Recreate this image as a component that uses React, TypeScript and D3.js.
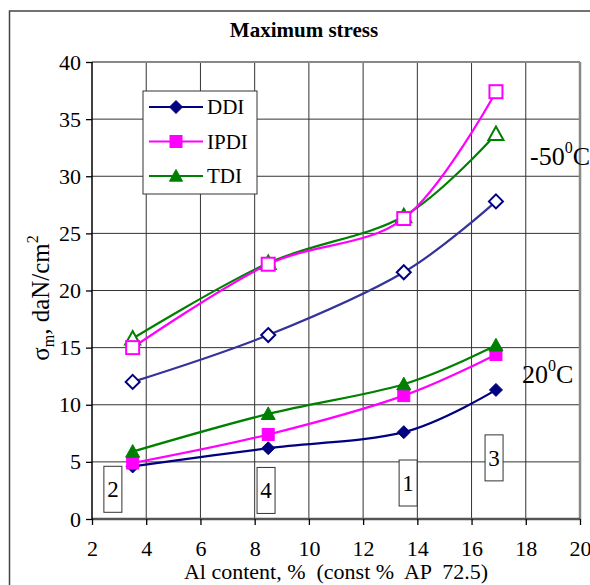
import * as d3 from "d3";
import React, { useRef, useEffect } from "react";

// Al content, % (x values shared by all series)
const alContent = [3.5, 8.5, 13.5, 16.9];

// 20 C series (filled markers)
const ddi20 = [4.6, 6.2, 7.6, 11.3];
const ipdi20 = [4.9, 7.4, 10.8, 14.4];
const tdi20 = [5.9, 9.2, 11.8, 15.2];

// -50 C series (hollow markers)
const ddiMinus50 = [12.0, 16.1, 21.6, 27.8];
const ipdiMinus50 = [15.0, 22.3, 26.3, 37.4];
const tdiMinus50 = [15.8, 22.4, 26.5, 33.7];

const legendNames = ["DDI", "IPDI", "TDI"];
const sampleLabels = ["2", "4", "1", "3"];
const xTicks = [2, 4, 6, 8, 10, 12, 14, 16, 18, 20];
const yTicks = [0, 5, 10, 15, 20, 25, 30, 35, 40];

const W = 590;
const H = 585;
const margin = { left: 92, right: 10, top: 62, bottom: 66 };
const FONT = "'Liberation Serif', 'Times New Roman', serif";

const NAVY = "#000080";
const MAGENTA = "#ff00ff";
const GREEN = "#008000";

// where the sample number boxes sit (data coords)
const boxPos = [
  [2.77, 2.6],
  [8.42, 2.5],
  [13.66, 3.15],
  [16.83, 5.35],
];

function App() {
  const xAxisRef = useRef(null);
  const yAxisRef = useRef(null);

  const x = d3.scaleLinear().domain([2, 20]).range([margin.left, W - margin.right]);
  const y = d3.scaleLinear().domain([0, 40]).range([H - margin.bottom, margin.top]);

  useEffect(() => {
    const xa = d3.select(xAxisRef.current);
    xa.call(d3.axisBottom(x).tickValues(xTicks).tickSize(6).tickPadding(15));
    xa.select(".domain").remove();
    xa.selectAll("text").attr("font-size", 22).attr("font-family", FONT).attr("fill", "#000");
    xa.selectAll("line").attr("stroke", "#000").attr("stroke-width", 1.3);

    const ya = d3.select(yAxisRef.current);
    ya.call(d3.axisLeft(y).tickValues(yTicks).tickSize(6).tickPadding(5));
    ya.select(".domain").remove();
    ya.selectAll("text").attr("font-size", 22).attr("font-family", FONT).attr("fill", "#000");
    ya.selectAll("line").attr("stroke", "#000").attr("stroke-width", 1.3);
  }, []);

  const line = d3
    .line<number>()
    .x((d, i) => x(alContent[i]))
    .y((d) => y(d))
    .curve(d3.curveCardinal.tension(0));

  const diamond = (cx, cy, r, fill, stroke, key) => (
    <path
      key={key}
      d={`M${cx},${cy - r}L${cx + r},${cy}L${cx},${cy + r}L${cx - r},${cy}Z`}
      fill={fill}
      stroke={stroke}
      strokeWidth={fill === "#fff" ? 2 : 1}
    />
  );
  const square = (cx, cy, r, fill, stroke, key) => (
    <rect
      key={key}
      x={cx - r}
      y={cy - r}
      width={2 * r}
      height={2 * r}
      fill={fill}
      stroke={stroke}
      strokeWidth={fill === "#fff" ? 2 : 1}
    />
  );
  const triangle = (cx, cy, r, fill, stroke, key) => (
    <path
      key={key}
      d={`M${cx},${cy - r}L${cx + r},${cy + r * 0.8}L${cx - r},${cy + r * 0.8}Z`}
      fill={fill}
      stroke={stroke}
      strokeWidth={fill === "#fff" ? 2 : 1}
    />
  );

  const series = [
    { vals: ddiMinus50, line: "#333399", color: NAVY, marker: diamond, fill: "#fff", r: 7 },
    { vals: tdiMinus50, line: GREEN, color: GREEN, marker: triangle, fill: "#fff", r: 7.5 },
    { vals: ipdiMinus50, line: MAGENTA, color: MAGENTA, marker: square, fill: "#fff", r: 6.5 },
    { vals: ddi20, line: NAVY, color: NAVY, marker: diamond, fill: NAVY, r: 6.5 },
    { vals: ipdi20, line: MAGENTA, color: MAGENTA, marker: square, fill: MAGENTA, r: 6 },
    { vals: tdi20, line: GREEN, color: GREEN, marker: triangle, fill: GREEN, r: 7 },
  ];

  const legendColors = [NAVY, MAGENTA, GREEN];
  const legendMarkers = [diamond, square, triangle];

  const x0 = x(2);
  const x1 = x(20);
  const y0 = y(0);
  const y1 = y(40);

  return (
    <svg
      width={W}
      height={H}
      style={{ position: "absolute", left: 0, top: 0, background: "#fff" }}
      fontFamily={FONT}
    >
      <rect x={0} y={0} width={W} height={H} fill="#fff" />
      {/* outer frame */}
      <rect x={9.5} y={11} width={W + 20} height={H + 20} fill="none" stroke="#444" strokeWidth={1.5} />

      <text x={304} y={37} textAnchor="middle" fontSize={21} fontWeight="bold">
        Maximum stress
      </text>

      {/* grid */}
      <g>
        {xTicks.slice(1, -1).map((t) => (
          <line key={"gx" + t} x1={x(t)} x2={x(t)} y1={y1} y2={y0} stroke="#333" strokeWidth={1} />
        ))}
        {yTicks.slice(1, -1).map((t) => (
          <line key={"gy" + t} x1={x0} x2={x1} y1={y(t)} y2={y(t)} stroke="#333" strokeWidth={1} />
        ))}
      </g>

      {/* plot border */}
      <line x1={x0} x2={x1} y1={y1} y2={y1} stroke="#888" strokeWidth={2} />
      <line x1={x1} x2={x1} y1={y1} y2={y0} stroke="#888" strokeWidth={2.5} />
      <line x1={x0} x2={x1} y1={y0} y2={y0} stroke="#555" strokeWidth={2.5} />
      <line x1={x0} x2={x0} y1={y1} y2={y0} stroke="#000" strokeWidth={1.5} />

      <g ref={xAxisRef} transform={`translate(0,${y0})`} />
      <g ref={yAxisRef} transform={`translate(${x0},0)`} />

      {/* sample number boxes */}
      {sampleLabels.map((s, i) => {
        const cx = x(boxPos[i][0]);
        const cy = y(boxPos[i][1]);
        return (
          <g key={"b" + s}>
            <rect x={cx - 9} y={cy - 23} width={18} height={46} fill="#fff" stroke="#333" strokeWidth={1} />
            <text x={cx} y={cy + 8} textAnchor="middle" fontSize={23}>
              {s}
            </text>
          </g>
        );
      })}

      {/* series */}
      {series.map((s, si) => (
        <g key={"s" + si}>
          <path d={line(s.vals) || ""} fill="none" stroke={s.line} strokeWidth={2.2} />
          {s.vals.map((v, i) => s.marker(x(alContent[i]), y(v), s.r, s.fill, s.color, i))}
        </g>
      ))}

      {/* temperature labels */}
      <text x={530} y={165} fontSize={26}>
        -50<tspan dy={-12} fontSize={16}>0</tspan>
        <tspan dy={12}>C</tspan>
      </text>
      <text x={522} y={383} fontSize={26}>
        20<tspan dy={-12} fontSize={16}>0</tspan>
        <tspan dy={12}>C</tspan>
      </text>

      {/* legend */}
      <rect x={143} y={91} width={114} height={103} fill="#fff" stroke="#333" strokeWidth={1} />
      {legendNames.map((n, i) => {
        const ly = 107 + i * 34.5;
        return (
          <g key={"l" + n}>
            <line x1={149} x2={203} y1={ly} y2={ly} stroke={legendColors[i]} strokeWidth={2.2} />
            {legendMarkers[i](176, ly, i === 1 ? 6 : 6.5, legendColors[i], legendColors[i], 0)}
            <text x={207} y={ly + 7} fontSize={21}>
              {n}
            </text>
          </g>
        );
      })}

      {/* axis titles */}
      <text x={336} y={579} textAnchor="middle" fontSize={22} style={{ whiteSpace: "pre" }}>
        {"Al content, %  (const %  AP  72.5)"}
      </text>
      <text transform="translate(49,298) rotate(-90)" textAnchor="middle" fontSize={25}>
        σ<tspan fontSize={16} dy={5}>m</tspan>
        <tspan dy={-5}>, daN/cm</tspan>
        <tspan fontSize={16} dy={-11}>2</tspan>
      </text>
    </svg>
  );
}

export default App;
